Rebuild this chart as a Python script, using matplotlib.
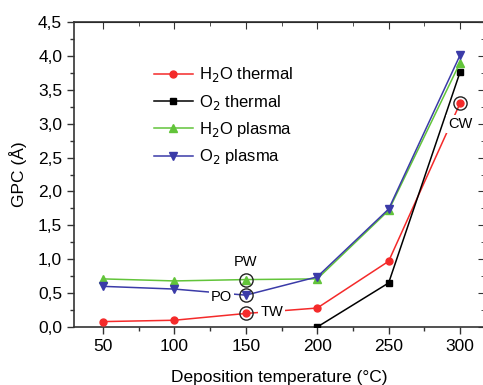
import matplotlib.pyplot as plt
from matplotlib.ticker import MultipleLocator, FuncFormatter

plt.rcParams['font.family'] = ['Liberation Sans', 'DejaVu Sans']

temps = [50, 100, 150, 200, 250, 300]
h2o_thermal = [0.08, 0.10, 0.20, 0.28, 0.97, 3.30]
o2_thermal_t = [200, 250, 300]
o2_thermal = [0.0, 0.65, 3.76]
h2o_plasma = [0.71, 0.68, 0.70, 0.71, 1.72, 3.90]
o2_plasma = [0.60, 0.56, 0.47, 0.74, 1.74, 4.01]

labels = ['PW', 'PO', 'TW', 'CW']
label_x = [150, 133, 168, 300]
label_y = [0.96, 0.45, 0.22, 3.0]
circle_x = [150, 150, 150, 300]
circle_y = [0.70, 0.47, 0.20, 3.30]

red = '#f42a2a'
green = '#62c43a'
blue = '#3b3ba8'

fig = plt.figure(figsize=(4.83, 3.85), dpi=100)
ax = fig.add_axes([0.1532, 0.1506, 0.851, 0.7922])

ax.plot(temps, h2o_thermal, '-o', color=red, lw=1.1, ms=5, label='H$_2$O thermal', zorder=3)
ax.plot(o2_thermal_t, o2_thermal, '-s', color='black', lw=1.1, ms=4.5, label='O$_2$ thermal', zorder=3)
ax.plot(temps, h2o_plasma, '-^', color=green, lw=1.1, ms=5.5, label='H$_2$O plasma', zorder=3)
ax.plot(temps, o2_plasma, '-v', color=blue, lw=1.1, ms=5.5, label='O$_2$ plasma', zorder=3)

ax.plot(circle_x, circle_y, 'o', ms=9.5, mfc='none', mec='#222222', mew=1.0, zorder=4)
for t, x, y in zip(labels, label_x, label_y):
    ax.text(x, y, t, fontsize=10.5, ha='center', va='center', zorder=5,
            bbox=dict(facecolor='white', edgecolor='none', pad=1.5))

ax.set_xlim(29.7, 317.5)
ax.set_ylim(0, 4.5)
ax.xaxis.set_major_locator(MultipleLocator(50))
ax.xaxis.set_minor_locator(MultipleLocator(25))
ax.yaxis.set_major_locator(MultipleLocator(0.5))
ax.yaxis.set_minor_locator(MultipleLocator(0.25))
ax.yaxis.set_major_formatter(FuncFormatter(lambda v, p: ('%.1f' % v).replace('.', ',')))
ax.tick_params(which='both', direction='out', labelsize=12.5, width=1.0, color='#333333')
ax.tick_params(which='major', length=5)
ax.tick_params(which='minor', length=3)
for s in ax.spines.values():
    s.set_linewidth(1.2)
    s.set_color('#333333')

top = ax.secondary_xaxis('top')
top.set_xticks([50, 100, 150, 200, 250, 300])
top.xaxis.set_minor_locator(MultipleLocator(25))
top.tick_params(which='both', direction='in', labeltop=False, color='#333333')
top.tick_params(which='major', length=5)
top.tick_params(which='minor', length=3)
right = ax.secondary_yaxis('right')
right.yaxis.set_major_locator(MultipleLocator(0.5))
right.yaxis.set_minor_locator(MultipleLocator(0.25))
right.tick_params(which='both', direction='in', labelright=False, color='#333333')
right.tick_params(which='major', length=5)
right.tick_params(which='minor', length=3)

ax.set_xlabel('Deposition temperature (°C)', fontsize=12.5, labelpad=12)
ax.set_ylabel('GPC (Å)', fontsize=12.5, labelpad=8)

ax.legend(loc='upper left', bbox_to_anchor=(0.175, 0.885), frameon=False, fontsize=12,
          handlelength=2.3, handletextpad=0.4, labelspacing=0.5, borderpad=0)

fig.savefig('out.png', dpi=100)
